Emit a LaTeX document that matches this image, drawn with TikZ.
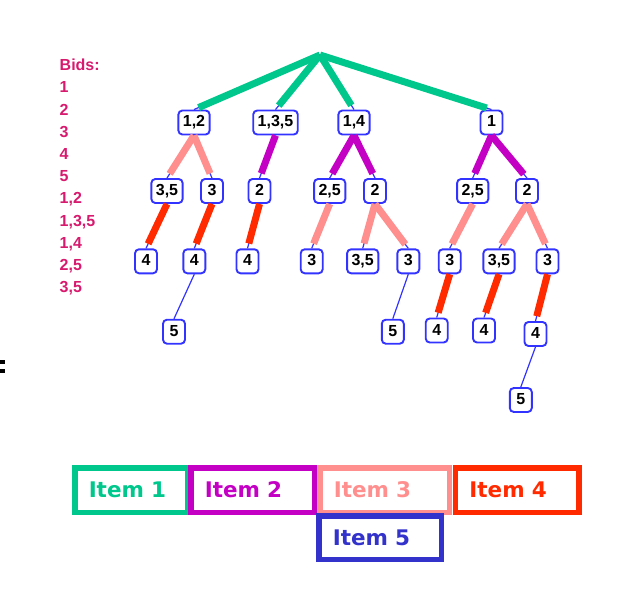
\documentclass[tikz,border=0pt]{standalone}
\usepackage{fontspec}
\newfontfamily\arial{Liberation Sans}
\newfontfamily\verdana{DejaVu Sans}
\usetikzlibrary{positioning}
\definecolor{itemone}{HTML}{00C78C}
\definecolor{itemtwo}{HTML}{C400C4}
\definecolor{itemthree}{HTML}{FF8F8F}
\definecolor{itemfour}{HTML}{FF2A00}
\definecolor{itemfive}{HTML}{3333CC}
\definecolor{nodeblue}{HTML}{3333FF}
\definecolor{bidpink}{HTML}{D71A6E}

\begin{document}
\begin{tikzpicture}[x=1pt, y=-1pt,
  bidnode/.style={draw=nodeblue, line width=1.9pt, rounded corners=4pt, fill=white,
    font=\arial\bfseries\fontsize{16}{18}\selectfont, inner xsep=4.5pt, inner ysep=0pt,
    text height=11.5pt, text depth=2.5pt, minimum height=24pt, minimum width=22pt},
  edge/.style={draw=nodeblue, line width=1.2pt},
  bid/.style={edge, postaction={draw=#1, line width=7pt, shorten >=5pt}},
  itembox/.style={draw=#1, text=#1, line width=5.5pt, inner xsep=14pt, inner ysep=0pt,
    minimum height=44.5pt, align=left, font=\verdana\bfseries\fontsize{21.5}{24}\selectfont}]
\useasboundingbox (0,0) rectangle (627,594);

% bid list
\node[anchor=north west, inner sep=0pt, align=left, text=bidpink,
      font=\arial\bfseries\fontsize{16}{22.2}\selectfont] (bids) at (59.5,59)
  {Bids:\\1\\2\\3\\4\\5\\1,2\\1,3,5\\1,4\\2,5\\3,5};
\fill (0,360) rectangle (4.5,363.5);
\fill (0,369) rectangle (4.5,372.5);

% tree
\coordinate (r) at (320,55);
\node[bidnode] (a) at (194,122.5) {1,2};
\node[bidnode] (b) at (275.5,122.5) {1,3,5};
\node[bidnode] (c) at (354,122.5) {1,4};
\node[bidnode] (d) at (491.5,122.5) {1};

\node[bidnode] (a1) at (167,191) {3,5};
\node[bidnode] (a2) at (212,191) {3};
\node[bidnode] (b1) at (259.5,191) {2};
\node[bidnode] (c1) at (329.7,191) {2,5};
\node[bidnode] (c2) at (375,191) {2};
\node[bidnode] (d1) at (472.7,191) {2,5};
\node[bidnode] (d2) at (527,191) {2};

\node[bidnode] (a11) at (146,261.3) {4};
\node[bidnode] (a21) at (194.3,261.3) {4};
\node[bidnode] (b11) at (247.5,261.3) {4};
\node[bidnode] (c11) at (311.7,261.3) {3};
\node[bidnode] (c21) at (362.7,261.3) {3,5};
\node[bidnode] (c22) at (408.3,261.3) {3};
\node[bidnode] (d11) at (449.7,261.3) {3};
\node[bidnode] (d21) at (499,261.3) {3,5};
\node[bidnode] (d22) at (547.5,261.3) {3};

\node[bidnode] (a211) at (174,331.7) {5};
\node[bidnode] (c221) at (392.8,331.7) {5};
\node[bidnode] (d111) at (436.7,330.5) {4};
\node[bidnode] (d211) at (484,330.5) {4};
\node[bidnode] (d221) at (535.5,334) {4};
\node[bidnode] (d2211) at (520.8,400) {5};

\draw[bid=itemone] (r) -- (a.north);
\draw[bid=itemone] (r) -- (b.north);
\draw[bid=itemone] (r) -- (c.north);
\draw[bid=itemone] (r) -- (d.north);

\draw[bid=itemthree] (a.south) -- (a1.north);
\draw[bid=itemthree] (a.south) -- (a2.north);
\draw[bid=itemtwo] (b.south) -- (b1.north);
\draw[bid=itemtwo] (c.south) -- (c1.north);
\draw[bid=itemtwo] (c.south) -- (c2.north);
\draw[bid=itemtwo] (d.south) -- (d1.north);
\draw[bid=itemtwo] (d.south) -- (d2.north);

\draw[bid=itemfour] (a1.south) -- (a11.north);
\draw[bid=itemfour] (a2.south) -- (a21.north);
\draw[bid=itemfour] (b1.south) -- (b11.north);
\draw[bid=itemthree] (c1.south) -- (c11.north);
\draw[bid=itemthree] (c2.south) -- (c21.north);
\draw[bid=itemthree] (c2.south) -- (c22.north);
\draw[bid=itemthree] (d1.south) -- (d11.north);
\draw[bid=itemthree] (d2.south) -- (d21.north);
\draw[bid=itemthree] (d2.south) -- (d22.north);

\draw[edge] (a21.south) -- (a211.north);
\draw[edge] (c22.south) -- (c221.north);
\draw[bid=itemfour] (d11.south) -- (d111.north);
\draw[bid=itemfour] (d21.south) -- (d211.north);
\draw[bid=itemfour] (d22.south) -- (d221.north);
\draw[edge] (d221.south) -- (d2211.north);

% items
\node[itembox=itemone, text width=84.5pt] (i1) at (131,490) {Item 1};
\node[itembox=itemtwo, text width=95.5pt] (i2) at (252.5,490) {Item 2};
\node[itembox=itemthree, text width=101.5pt] (i3) at (384.5,490) {Item 3};
\node[itembox=itemfour, text width=95.8pt] (i4) at (517.3,490) {Item 4};
\node[itembox=itemfive, text width=94.5pt, minimum height=43.5pt] (i5) at (380,537.5) {Item 5};
\end{tikzpicture}
\end{document}
